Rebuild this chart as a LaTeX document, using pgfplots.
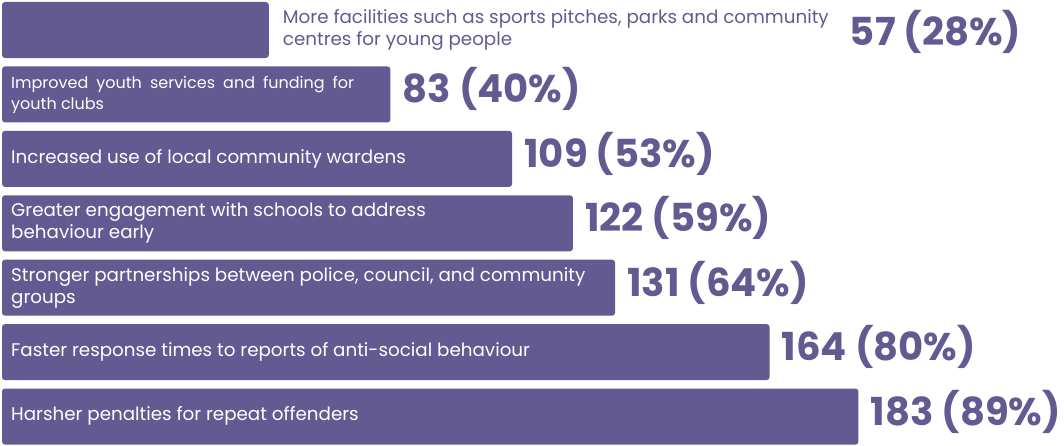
\documentclass[border=0pt]{standalone}
\usepackage{pgfplots}
\pgfplotsset{compat=1.18}
\usepackage{fontspec}
\setmainfont{Poppins}
\definecolor{barc}{RGB}{99,90,145}
\newcommand{\descfont}{\fontsize{18.3}{22}\selectfont}
\newcommand{\descfontb}{\fontsize{16}{21}\selectfont}
\newcommand{\valfont}{\fontsize{38.6}{42}\selectfont\bfseries}
\newcommand{\lab}[1]{\begin{tabular}{@{}l@{}}#1\end{tabular}}
\newcommand{\jline}[1]{\makebox[343pt][s]{#1}}
\begin{document}
\begin{tikzpicture}
\begin{axis}[
  scale only axis, width=1064pt, height=445pt,
  xmin=-0.43, xmax=226.92, ymin=-0.466, ymax=6.442, y dir=reverse,
  hide axis, clip=false,
]
\addplot[xbar, bar width=0.87, fill=barc, draw=none, rounded corners=3pt]
  coordinates {(57,0) (83,1) (109,2) (122,3) (131,4) (164,5) (183,6)};
% labels inside bars
\addplot[only marks, mark=none, point meta=explicit symbolic,
  nodes near coords={\lab{\pgfplotspointmeta}},
  nodes near coords style={anchor=west, inner sep=0pt, xshift=9pt, text=white, font=\descfontb}]
  coordinates {
  (0,1) [\jline{Improved youth services and funding for}\\youth clubs]
  };
\addplot[only marks, mark=none, point meta=explicit symbolic,
  nodes near coords={\lab{\pgfplotspointmeta}},
  nodes near coords style={anchor=west, inner sep=0pt, xshift=9pt, text=white, font=\descfont}]
  coordinates {
  (0,2) [Increased use of local community wardens]
  (0,3) [Greater engagement with schools to address\\behaviour early]
  (0,4) [Stronger partnerships between police, council, and community\\groups]
  (0,5) [Faster response times to reports of anti-social behaviour]
  (0,6) [Harsher penalties for repeat offenders]
  };
% label outside first bar
\addplot[only marks, mark=none, point meta=explicit symbolic,
  nodes near coords={\lab{\pgfplotspointmeta}},
  nodes near coords style={anchor=west, inner sep=0pt, xshift=14pt, text=barc, font=\descfont}]
  coordinates {
  (57,0) [More facilities such as sports pitches, parks and community\\centres for young people]
  };
% value labels
\addplot[only marks, mark=none, point meta=explicit symbolic,
  nodes near coords={\pgfplotspointmeta},
  nodes near coords style={anchor=base west, inner sep=0pt, xshift=12pt, yshift=-8.5pt, text=barc, font=\valfont}]
  coordinates {
  (83,1) [83 (40\%)]
  (109,2) [109 (53\%)]
  (122,3) [122 (59\%)]
  (131,4) [131 (64\%)]
  (164,5) [164 (80\%)]
  (183,6) [183 (89\%)]
  };
\addplot[only marks, mark=none, point meta=explicit symbolic,
  nodes near coords={\pgfplotspointmeta},
  nodes near coords style={anchor=base west, inner sep=0pt, xshift=581pt, yshift=-15pt, text=barc, font=\valfont}]
  coordinates {
  (57,0) [57 (28\%)]
  };
\coordinate (bl) at (rel axis cs:0,0);
\coordinate (tr) at (rel axis cs:1,1);
\end{axis}
\pgfresetboundingbox
\useasboundingbox (bl) rectangle (tr);
\end{tikzpicture}
\end{document}
